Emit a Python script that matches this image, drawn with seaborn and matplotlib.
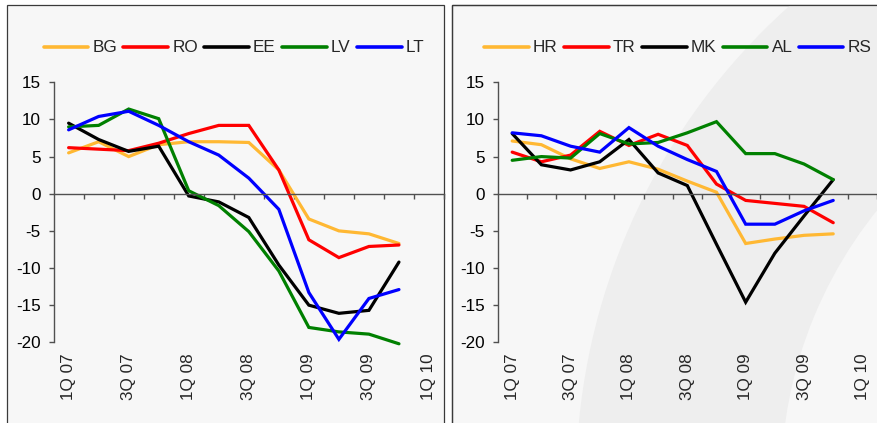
import matplotlib
matplotlib.use("Agg")
import matplotlib.pyplot as plt
from matplotlib.patches import Rectangle, Wedge
import pandas as pd
import seaborn as sns

quarters = ["1Q 07", "2Q 07", "3Q 07", "4Q 07", "1Q 08", "2Q 08", "3Q 08",
            "4Q 08", "1Q 09", "2Q 09", "3Q 09", "4Q 09", "1Q 10"]

# Group 1
bg = [5.5, 7.0, 5.0, 6.6, 7.0, 7.0, 6.9, 3.2, -3.4, -5.0, -5.4, -6.7]
ro = [6.2, 6.0, 5.8, 6.8, 8.1, 9.2, 9.2, 3.2, -6.2, -8.6, -7.1, -6.9]
ee = [9.5, 7.3, 5.7, 6.4, -0.3, -1.1, -3.2, -9.6, -15.0, -16.1, -15.7, -9.2]
lv = [9.0, 9.2, 11.4, 10.1, 0.4, -1.6, -5.1, -10.4, -18.0, -18.6, -18.9, -20.2]
lt = [8.6, 10.4, 11.1, 9.2, 7.0, 5.2, 2.1, -2.1, -13.3, -19.6, -14.1, -12.9]

# Group 2
hr = [7.1, 6.6, 4.7, 3.4, 4.3, 3.3, 1.7, 0.2, -6.7, -6.1, -5.6, -5.4]
tr = [5.6, 4.3, 5.2, 8.4, 6.5, 8.0, 6.5, 1.3, -0.9, -1.3, -1.7, -3.9]
mk = [8.1, 3.9, 3.2, 4.3, 7.3, 2.8, 1.1, -6.8, -14.6, -8.0, -3.0, 1.9]
al = [4.5, 5.0, 4.8, 8.1, 6.7, 6.9, 8.2, 9.7, 5.4, 5.4, 4.0, 1.9]
rs = [8.2, 7.8, 6.4, 5.6, 8.9, 6.4, 4.6, 3.0, -4.1, -4.1, -2.3, -0.9]

left_series = {"BG": bg, "RO": ro, "EE": ee, "LV": lv, "LT": lt}
right_series = {"HR": hr, "TR": tr, "MK": mk, "AL": al, "RS": rs}
line_colors = ["#FFB833", "#FF0000", "#000000", "#008000", "#0000FF"]

W, H = 877, 423
sns.set_theme(style="white")
plt.rcParams["font.family"] = ["Liberation Sans", "DejaVu Sans"]
plt.rcParams["axes.unicode_minus"] = False

fig = plt.figure(figsize=(W / 100, H / 100), dpi=100)
fig.patch.set_facecolor("white")

# Panel backgrounds drawn in pixel coordinates
bgax = fig.add_axes([0, 0, 1, 1], zorder=0)
bgax.set_xlim(0, W)
bgax.set_ylim(H, 0)
bgax.axis("off")
panel_face = "#F7F7F7"
left_panel = Rectangle((7, 5), 437, 440, facecolor=panel_face,
                       edgecolor="#3A3A3A", lw=0.9)
right_panel = Rectangle((452, 5), 440, 440, facecolor=panel_face,
                        edgecolor="#3A3A3A", lw=0.9)
bgax.add_patch(left_panel)
bgax.add_patch(right_panel)
swoosh = Wedge((1216, 483), 640, 0, 360, width=205, facecolor="#EEEEEE",
               edgecolor="none")
bgax.add_patch(swoosh)
swoosh.set_clip_path(right_panel)
# redraw the border on top of the swoosh
bgax.add_patch(Rectangle((452, 5), 440, 440, facecolor="none",
                         edgecolor="#3A3A3A", lw=0.9))

px_step = 30.15


def make_panel(left_px, right_px, series, legend_center_px):
    x0 = left_px
    ax = fig.add_axes([x0 / W, 1 - 342.3 / H, (right_px - x0) / W, 260 / H],
                      zorder=2)
    ax.patch.set_alpha(0)
    names = list(series.keys())
    df = pd.DataFrame({
        "q": [i for n in names for i in range(len(series[n]))],
        "value": [v for n in names for v in series[n]],
        "country": [n for n in names for _ in series[n]],
    })
    sns.lineplot(data=df, x="q", y="value", hue="country", hue_order=names,
                 palette=line_colors, linewidth=2.3, ax=ax, sort=False,
                 clip_on=False, legend=True)
    for ln in ax.lines:
        ln.set_clip_on(False)
        ln.set_solid_joinstyle("miter")
    ax.set_xlim(-0.5, -0.5 + (right_px - x0) / px_step)
    ax.set_ylim(-20, 15)
    ax.set_xlabel("")
    ax.set_ylabel("")
    axis_color = "#505050"
    for s in ["top", "right"]:
        ax.spines[s].set_visible(False)
    ax.spines["left"].set_color(axis_color)
    ax.spines["left"].set_linewidth(1.0)
    ax.spines["bottom"].set_position(("data", 0))
    ax.spines["bottom"].set_color(axis_color)
    ax.spines["bottom"].set_linewidth(1.0)
    ax.set_yticks([15, 10, 5, 0, -5, -10, -15, -20])
    ax.set_yticklabels([str(v) for v in [15, 10, 5, 0, -5, -10, -15, -20]])
    ax.tick_params(axis="y", direction="out", length=3.4, width=1.0,
                   color=axis_color, pad=6, labelsize=12.3, labelcolor="black",
                   left=True)
    # category boundary ticks on the zero line
    ax.set_xticks([i + 0.5 for i in range(len(quarters))])
    ax.set_xticklabels([])
    ax.tick_params(axis="x", direction="out", length=3.6, width=1.0,
                   color=axis_color, bottom=True)
    # quarter labels along the bottom of the plot area
    sec = ax.secondary_xaxis(0.0)
    sec.set_xticks(list(range(0, len(quarters), 2)))
    sec.set_xticklabels(quarters[::2], rotation=90, fontsize=12.3)
    sec.tick_params(length=0, pad=8)
    sec.spines["bottom"].set_visible(False)

    handles, labels = ax.get_legend_handles_labels()
    ax.get_legend().remove()
    leg = ax.legend(handles, labels, ncol=5, frameon=False, loc="center",
                    bbox_to_anchor=(legend_center_px[0] / W,
                                    1 - legend_center_px[1] / H),
                    bbox_transform=fig.transFigure, fontsize=12.3,
                    handlelength=2.6, handletextpad=0.25, columnspacing=0.38,
                    borderaxespad=0, borderpad=0)
    for lh in leg.get_lines():
        lh.set_linewidth(2.6)
    return ax


make_panel(53.6, 444, left_series, (234, 48))
make_panel(497.6, 877, right_series, (678, 48))

fig.savefig("out.png", dpi=100)
